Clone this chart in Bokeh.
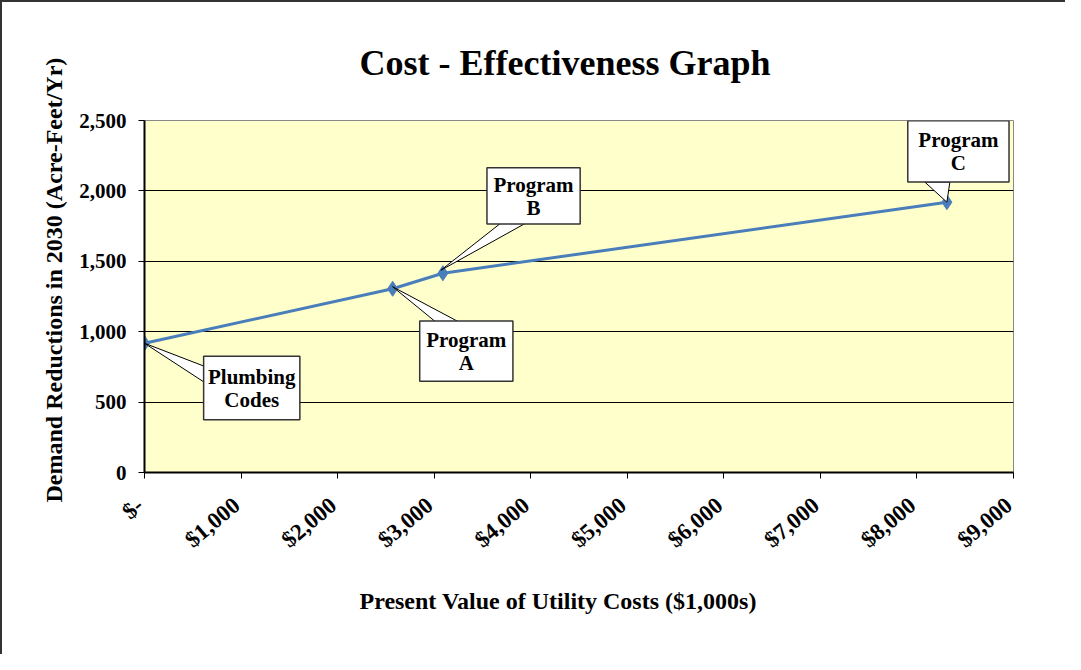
from bokeh.plotting import figure
from bokeh.models import Range1d, FixedTicker, NumeralTickFormatter, Title
from bokeh.core.properties import value
from bokeh.embed import file_html
from bokeh.resources import INLINE
import math

# ---- data ----
program_names = ["Plumbing Codes", "Program A", "Program B", "Program C"]
costs = [0, 2570, 3090, 8310]              # $1,000s
reductions = [918, 1305, 1415, 1920]      # acre-feet / yr
x_ticks = [0, 1000, 2000, 3000, 4000, 5000, 6000, 7000, 8000, 9000]
x_tick_labels = ["$-", "$1,000", "$2,000", "$3,000", "$4,000", "$5,000",
                 "$6,000", "$7,000", "$8,000", "$9,000"]
y_ticks = [0, 500, 1000, 1500, 2000, 2500]
callout_lines = [["Plumbing", "Codes"], ["Program", "A"], ["Program", "B"], ["Program", "C"]]
title_text = "Cost - Effectiveness Graph"
x_title = "Present Value of Utility Costs ($1,000s)"
y_title = "Demand Reductions in 2030 (Acre-Feet/Yr)"

# ---- layout (pixel offsets of callouts relative to their point) ----
# box: (left, top, width, height); wedge base points; tip offset  (y down positive)
callout_layout = [
    dict(box=(59, 13, 96, 63), base=[(60, 23), (60, 39)], tip=(0, 0)),
    dict(box=(27, 32, 93, 60), base=[(43, 33), (66, 33)], tip=(0, -2)),
    dict(box=(44, -105, 93, 56), base=[(58, -50), (83, -50)], tip=(-2, -3)),
    dict(box=(-39, -81, 101, 61), base=[(-22, -20), (3, -20)], tip=(0, 0)),
]

FONT = "Liberation Serif"
W, H = 1065, 654
CW, CH = W - 2, H - 2          # canvas inside the 2px css border
ML, MT = 142, 118
FW, FH = 867, 350
XMAX, YMAX = 9000, 2500

p = figure(width=W, height=H, output_backend="svg", toolbar_location=None,
           x_range=Range1d(0, XMAX), y_range=Range1d(0, YMAX),
           min_border_left=ML, min_border_top=MT,
           min_border_right=CW - ML - FW, min_border_bottom=CH - MT - FH,
           background_fill_color="#FFFFCC", border_fill_color="white")
p.styles = {"border-top": "2px solid #333333", "border-left": "2px solid #333333"}

p.outline_line_color = "#888888"
p.outline_line_width = 1

# axes
p.xaxis.ticker = FixedTicker(ticks=x_ticks)
# a trailing no-break space nudges each slanted label slightly left of its tick
p.xaxis.major_label_overrides = {t: l + "\u00a0" for t, l in zip(x_ticks, x_tick_labels)}
p.xaxis.major_label_orientation = math.radians(40)
p.yaxis.ticker = FixedTicker(ticks=y_ticks)
p.yaxis.formatter = NumeralTickFormatter(format="0,0")
for ax in (p.xaxis, p.yaxis):
    ax.axis_line_color = "black"
    ax.axis_line_width = 2
    ax.major_tick_line_color = "black"
    ax.major_tick_out = 6
    ax.major_tick_in = 0
    ax.minor_tick_line_color = None
    ax.major_label_text_font = FONT
    ax.major_label_text_font_style = "bold"
    ax.major_label_text_color = "black"
p.yaxis.major_label_text_font_size = "21px"
p.xaxis.major_label_text_font_size = "23px"
p.yaxis.major_label_standoff = 12
p.xaxis.major_label_standoff = 20

# titles (left-aligned with offsets so they can sit off the frame centre)
p.title = Title(text=title_text, align="left", offset=215, standoff=76,
                text_font=FONT, text_font_size="36px", text_font_style="bold",
                text_color="black")
p.add_layout(Title(text=x_title, align="left", offset=215, standoff=41,
                   text_font=FONT, text_font_size="24px", text_font_style="bold",
                   text_color="black"), "below")
p.add_layout(Title(text=y_title, align="left", offset=-30, standoff=19,
                   text_font=FONT, text_font_size="24px", text_font_style="bold",
                   text_color="black"), "left")

p.xgrid.grid_line_color = None
p.ygrid.grid_line_color = "black"
p.ygrid.grid_line_width = 1

# line + markers
p.line(costs, reductions, line_color="#4A7EBB", line_width=3)
p.scatter(costs, reductions, marker="diamond", size=15, fill_color="#4A7EBB",
          line_color="#4A7EBB")

# callouts
sx = XMAX / FW
sy = YMAX / FH
for i, lay in enumerate(callout_layout):
    cx, cy = costs[i], reductions[i]
    def to_data(dx, dy):
        return cx + dx * sx, cy - dy * sy
    tip = to_data(*lay["tip"])
    b1 = to_data(*lay["base"][0])
    b2 = to_data(*lay["base"][1])
    p.patch([b1[0], tip[0], b2[0]], [b1[1], tip[1], b2[1]],
            fill_color="white", line_color="black", line_width=1)
    l, t, w, h = lay["box"]
    x0, y0 = to_data(l, t)
    x1, y1 = to_data(l + w, t + h)
    p.quad(left=x0, right=x1, top=y0, bottom=y1, fill_color="white",
           line_color="#333333", line_width=1.5)
    mx = (x0 + x1) / 2
    my = (y0 + y1) / 2
    lines = callout_lines[i]
    p.text([mx], [my], text=[lines[0]], y_offset=-11, text_align="center",
           text_baseline="middle", text_font=value(FONT), text_font_style="bold",
           text_font_size="21px", text_color="black")
    p.text([mx], [my], text=[lines[1]], y_offset=12, text_align="center",
           text_baseline="middle", text_font=value(FONT), text_font_style="bold",
           text_font_size="21px", text_color="black")

open("out.html", "w").write(file_html(p, INLINE))
